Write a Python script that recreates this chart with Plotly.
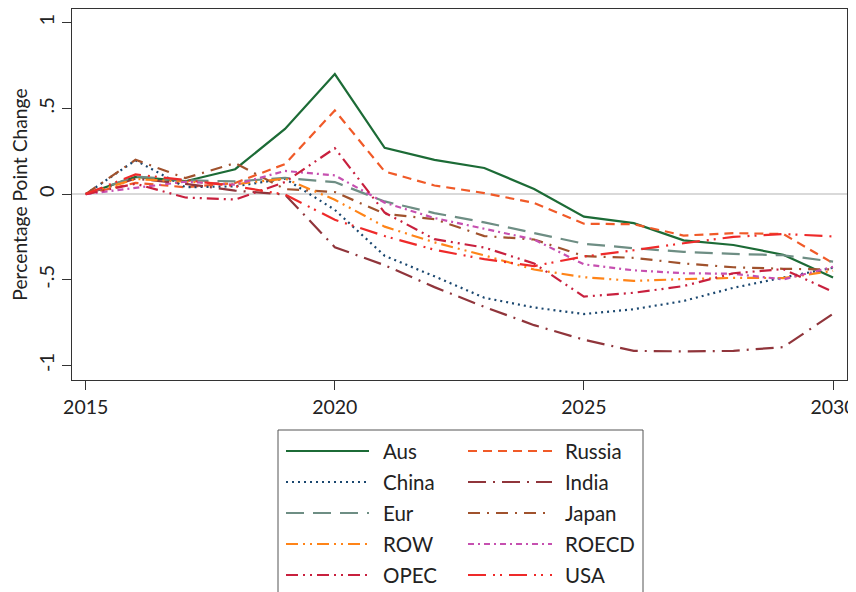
import plotly.graph_objects as go

years = list(range(2015, 2031))

series_names = ["Aus", "Russia", "China", "India", "Eur", "Japan", "ROW", "ROECD", "OPEC", "USA"]

Aus = [0, 0.10, 0.075, 0.145, 0.38, 0.70, 0.27, 0.20, 0.152, 0.03, -0.132, -0.17, -0.27, -0.297, -0.354, -0.487]
Russia = [0, 0.065, 0.04, 0.065, 0.175, 0.488, 0.132, 0.05, 0.006, -0.052, -0.173, -0.176, -0.242, -0.228, -0.233, -0.403]
China = [0, 0.197, 0.04, 0.045, 0.09, -0.092, -0.36, -0.48, -0.605, -0.662, -0.70, -0.672, -0.624, -0.547, -0.487, -0.43]
India = [0, 0.09, 0.06, 0.02, -0.003, -0.31, -0.415, -0.543, -0.658, -0.765, -0.85, -0.915, -0.918, -0.915, -0.893, -0.699]
Eur = [0, 0.103, 0.08, 0.074, 0.094, 0.07, -0.043, -0.111, -0.165, -0.226, -0.29, -0.316, -0.337, -0.349, -0.357, -0.394]
Japan = [0, 0.20, 0.093, 0.181, 0.029, 0.012, -0.115, -0.146, -0.245, -0.265, -0.362, -0.372, -0.405, -0.427, -0.436, -0.44]
ROW = [0, 0.088, 0.072, 0.058, 0.09, -0.033, -0.19, -0.282, -0.358, -0.44, -0.485, -0.507, -0.496, -0.489, -0.49, -0.448]
ROECD = [0, 0.038, 0.072, 0.055, 0.135, 0.109, -0.05, -0.14, -0.203, -0.265, -0.41, -0.445, -0.462, -0.465, -0.498, -0.425]
OPEC = [0, 0.06, -0.02, -0.032, 0.07, 0.268, -0.108, -0.263, -0.312, -0.405, -0.598, -0.576, -0.537, -0.462, -0.438, -0.57]
USA = [0, 0.115, 0.082, 0.046, -0.003, -0.15, -0.245, -0.325, -0.38, -0.42, -0.364, -0.328, -0.287, -0.25, -0.233, -0.247]

x_tickvals = [2015, 2020, 2025, 2030]
y_tickvals = [-1, -0.5, 0, 0.5, 1]
y_ticktext = ["-1", "-.5", "0", ".5", "1"]

values = {"Aus": Aus, "Russia": Russia, "China": China, "India": India, "Eur": Eur,
          "Japan": Japan, "ROW": ROW, "ROECD": ROECD, "OPEC": OPEC, "USA": USA}

styles = {
    "Aus": ("#1c6b36", "solid"),
    "Russia": ("#f05a28", "9px,6px"),
    "China": ("#1a476f", "2px,4px"),
    "India": ("#90353b", "18px,7px,2px,7px"),
    "Eur": ("#6e8e84", "18px,9px"),
    "Japan": ("#a0522d", "12px,7px,2px,7px"),
    "ROW": ("#ff8418", "12px,5px,2px,5px,2px,5px"),
    "ROECD": ("#c650b0", "6px,4px,2px,4px"),
    "OPEC": ("#c8203e", "12px,5px,2px,5px,2px,5px"),
    "USA": ("#ee2a2a", "18px,7px,2px,5px,2px,7px"),
}

# the page body adds an 8px offset; the figure is sized to fit the window
OFF = 8
W, H = 856 - OFF, 592 - OFF
ML, MR, MT, MB = 64, 9, 1, 212
PW, PH = W - ML - MR, H - MT - MB


def px_x(px):
    """page pixel x -> paper fraction"""
    return (px - OFF - ML) / PW


def px_y(py):
    """page pixel y -> paper fraction"""
    return (H - MB - (py - OFF)) / PH


font_family = "Lato, 'Open Sans', sans-serif"
text_color = "#222"

fig = go.Figure()
for name in series_names:
    color, dash = styles[name]
    fig.add_trace(go.Scatter(
        x=years, y=values[name], mode="lines", name=name, showlegend=False,
        line=dict(color=color, width=2.2, dash=dash),
    ))

# Legend (boxed two-column key below the plot)
shapes = [dict(type="rect", xref="paper", yref="paper",
               x0=px_x(278), x1=px_x(643), y0=px_y(430), y1=px_y(610),
               line=dict(color="#555", width=1), fillcolor="white", layer="above")]
annotations = []
col_sample_x = [(286, 369), (468, 552)]
col_text_x = [383, 565]
for i, name in enumerate(series_names):
    row, col = divmod(i, 2)
    cy = 451 + 31 * row
    color, dash = styles[name]
    sx0, sx1 = col_sample_x[col]
    shapes.append(dict(type="line", xref="paper", yref="paper",
                       x0=px_x(sx0), x1=px_x(sx1), y0=px_y(cy), y1=px_y(cy),
                       line=dict(color=color, width=2.2, dash=dash), layer="above"))
    annotations.append(dict(text=name, xref="paper", yref="paper",
                            x=px_x(col_text_x[col] - 2), y=px_y(cy), xanchor="left", yanchor="middle",
                            showarrow=False, font=dict(size=20.5, family=font_family, color=text_color)))

fig.update_layout(
    width=W, height=H,
    margin=dict(l=ML, r=MR, t=MT, b=MB),
    paper_bgcolor="white", plot_bgcolor="white",
    font=dict(family=font_family, size=20, color=text_color),
    showlegend=False,
    shapes=shapes,
    annotations=annotations,
    xaxis=dict(
        range=[2014.725, 2030.28], tickvals=x_tickvals, ticks="outside", ticklen=9,
        tickcolor="#333", showgrid=False, zeroline=False, showline=True,
        linecolor="#333", linewidth=1.3, mirror=True, automargin=False,
        ticklabeloverflow="allow",
        tickfont=dict(size=19.5),
    ),
    yaxis=dict(
        range=[-1.085, 1.08], tickvals=y_tickvals, ticktext=y_ticktext,
        ticks="outside", ticklen=9, tickcolor="#333", tickangle=-90,
        showgrid=False, zeroline=True, zerolinecolor="#d9d9d9", zerolinewidth=2,
        showline=True, linecolor="#333", linewidth=1.3, mirror=True, automargin=False,
        ticklabeloverflow="allow",
        title=dict(text="Percentage Point Change", font=dict(size=19.3), standoff=2),
        tickfont=dict(size=20),
    ),
)

fig.write_html("out.html")
